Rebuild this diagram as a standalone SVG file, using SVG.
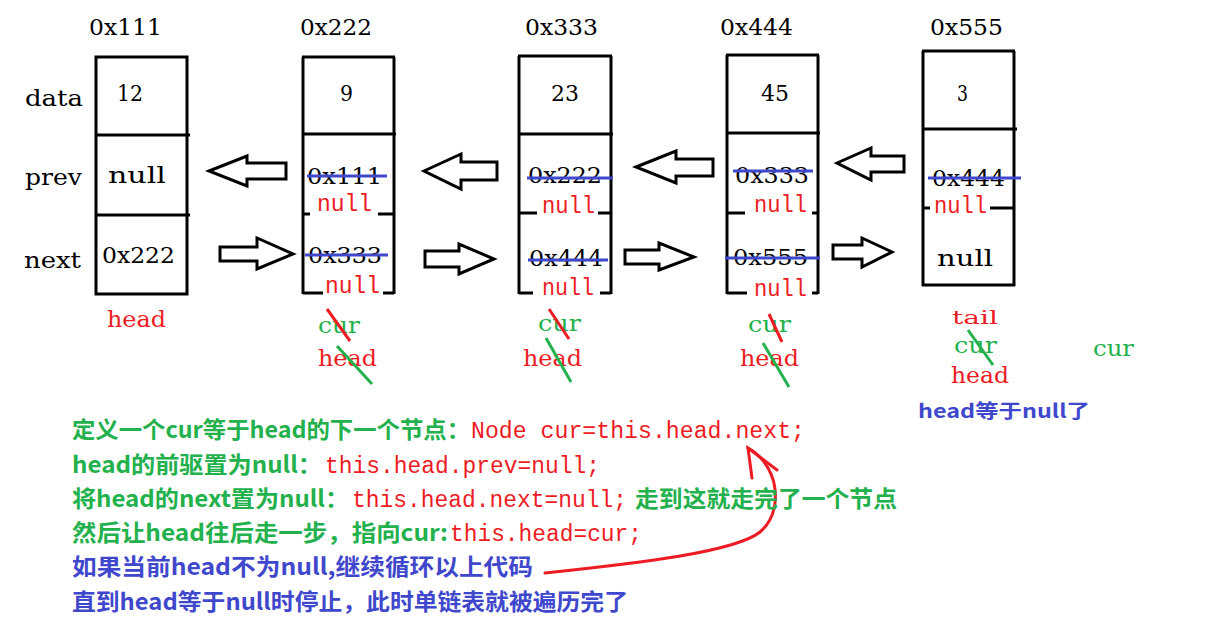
<svg xmlns="http://www.w3.org/2000/svg" width="1227" height="617" viewBox="0 0 1227 617">
<style>
.bg{fill:#fff}
.box{fill:none;stroke:#000;stroke-width:3}
.ln{stroke:#000;stroke-width:3;fill:none}
.arr{fill:#fff;stroke:#000;stroke-width:3;stroke-linejoin:miter}
.t{font-family:"DejaVu Serif","Liberation Serif",serif;font-size:23px;fill:#000}
.rn{font-family:"Liberation Mono","DejaVu Sans Mono",monospace;font-size:23px;fill:#ed1c24}
.st{stroke:#3f48cc;stroke-width:3}
.rs{stroke:#ed1c24;stroke-width:3}
.gs{stroke:#22b14c;stroke-width:3}
.r{fill:#ed1c24}
.g{fill:#22b14c}
.b{fill:#3f48cc}
.cn{font-family:"Noto Sans CJK SC","Noto Sans",sans-serif;font-size:23px;font-weight:bold}
.code{font-family:"Liberation Mono","DejaVu Sans Mono",monospace;font-size:23px;fill:#ed1c24}
</style>
<rect class="bg" x="0" y="0" width="1227" height="617"/>

<g id="row-labels">
<text class="t" x="25" y="106" textLength="58" lengthAdjust="spacingAndGlyphs">data</text>
<text class="t" x="25" y="185" textLength="57" lengthAdjust="spacingAndGlyphs">prev</text>
<text class="t" x="24" y="268" textLength="57" lengthAdjust="spacingAndGlyphs">next</text>
</g>

<g id="node-0x111">
<text class="t" x="89" y="35" textLength="73" lengthAdjust="spacingAndGlyphs">0x111</text>
<rect class="box" x="96" y="57" width="91" height="237"/>
<line class="ln" x1="96" y1="135" x2="190" y2="135"/>
<line class="ln" x1="96" y1="215" x2="190" y2="215"/>
<text class="t" x="117" y="101" textLength="26" lengthAdjust="spacingAndGlyphs">12</text>
<text class="t" x="108" y="183" textLength="58" lengthAdjust="spacingAndGlyphs">null</text>
<text class="t" x="102" y="263" textLength="73" lengthAdjust="spacingAndGlyphs">0x222</text>
<text class="t r" x="107" y="327" textLength="59" lengthAdjust="spacingAndGlyphs">head</text>
</g>

<g id="node-0x222">
<text class="t" x="300" y="35" textLength="72" lengthAdjust="spacingAndGlyphs">0x222</text>
<line class="ln" x1="303" y1="57" x2="303" y2="294"/>
<line class="ln" x1="394" y1="57" x2="394" y2="294"/>
<line class="ln" x1="302" y1="57" x2="395" y2="57"/>
<line class="ln" x1="303" y1="134" x2="396" y2="134"/>
<line class="ln" x1="303" y1="214" x2="310" y2="214"/>
<line class="ln" x1="378" y1="214" x2="394" y2="214"/>
<line class="ln" x1="303" y1="293" x2="323" y2="293"/>
<line class="ln" x1="383" y1="293" x2="394" y2="293"/>
<text class="t" x="340" y="101" textLength="13" lengthAdjust="spacingAndGlyphs">9</text>
<text class="t" x="307" y="184" textLength="75" lengthAdjust="spacingAndGlyphs">0x111</text>
<line class="st" x1="307" y1="176" x2="387" y2="176"/>
<text class="rn" x="317" y="211" textLength="55" lengthAdjust="spacingAndGlyphs">null</text>
<text class="t" x="308" y="263" textLength="74" lengthAdjust="spacingAndGlyphs">0x333</text>
<line class="st" x1="305" y1="255" x2="388" y2="255"/>
<text class="rn" x="325" y="293" textLength="55" lengthAdjust="spacingAndGlyphs">null</text>
<text class="t g" x="318" y="333" textLength="42" lengthAdjust="spacingAndGlyphs">cur</text>
<line class="rs" x1="327" y1="309" x2="350" y2="341"/>
<text class="t r" x="318" y="366" textLength="59" lengthAdjust="spacingAndGlyphs">head</text>
<line class="gs" x1="337" y1="346" x2="372" y2="384"/>
</g>

<g id="node-0x333">
<text class="t" x="525" y="35" textLength="73" lengthAdjust="spacingAndGlyphs">0x333</text>
<line class="ln" x1="519" y1="56" x2="519" y2="294"/>
<line class="ln" x1="611" y1="56" x2="611" y2="294"/>
<line class="ln" x1="518" y1="56" x2="612" y2="56"/>
<line class="ln" x1="519" y1="134" x2="613" y2="134"/>
<line class="ln" x1="519" y1="213" x2="537" y2="213"/>
<line class="ln" x1="598" y1="213" x2="611" y2="213"/>
<line class="ln" x1="519" y1="293" x2="533" y2="293"/>
<line class="ln" x1="600" y1="293" x2="611" y2="293"/>
<text class="t" x="551" y="101" textLength="28" lengthAdjust="spacingAndGlyphs">23</text>
<text class="t" x="528" y="183" textLength="74" lengthAdjust="spacingAndGlyphs">0x222</text>
<line class="st" x1="527" y1="178" x2="613" y2="178"/>
<text class="rn" x="542" y="213" textLength="53" lengthAdjust="spacingAndGlyphs">null</text>
<text class="t" x="529" y="266" textLength="74" lengthAdjust="spacingAndGlyphs">0x444</text>
<line class="st" x1="528" y1="260" x2="608" y2="260"/>
<text class="rn" x="542" y="295" textLength="52" lengthAdjust="spacingAndGlyphs">null</text>
<text class="t g" x="538" y="331" textLength="43" lengthAdjust="spacingAndGlyphs">cur</text>
<line class="rs" x1="549" y1="309" x2="569" y2="339"/>
<text class="t r" x="523" y="366" textLength="59" lengthAdjust="spacingAndGlyphs">head</text>
<line class="gs" x1="546" y1="338" x2="571" y2="382"/>
</g>

<g id="node-0x444">
<text class="t" x="720" y="35" textLength="73" lengthAdjust="spacingAndGlyphs">0x444</text>
<line class="ln" x1="727" y1="55" x2="727" y2="294"/>
<line class="ln" x1="818" y1="55" x2="818" y2="294"/>
<line class="ln" x1="726" y1="55" x2="819" y2="55"/>
<line class="ln" x1="727" y1="133" x2="820" y2="133"/>
<line class="ln" x1="727" y1="213" x2="745" y2="213"/>
<line class="ln" x1="812" y1="213" x2="818" y2="213"/>
<line class="ln" x1="727" y1="293" x2="747" y2="293"/>
<line class="ln" x1="812" y1="293" x2="818" y2="293"/>
<text class="t" x="761" y="101" textLength="28" lengthAdjust="spacingAndGlyphs">45</text>
<text class="t" x="735" y="183" textLength="74" lengthAdjust="spacingAndGlyphs">0x333</text>
<line class="st" x1="733" y1="171" x2="813" y2="171"/>
<text class="rn" x="754" y="212" textLength="53" lengthAdjust="spacingAndGlyphs">null</text>
<text class="t" x="733" y="265" textLength="75" lengthAdjust="spacingAndGlyphs">0x555</text>
<line class="st" x1="725" y1="258" x2="820" y2="258"/>
<text class="rn" x="754" y="296" textLength="53" lengthAdjust="spacingAndGlyphs">null</text>
<text class="t g" x="748" y="332" textLength="43" lengthAdjust="spacingAndGlyphs">cur</text>
<line class="rs" x1="769" y1="314" x2="782" y2="342"/>
<text class="t r" x="740" y="366" textLength="59" lengthAdjust="spacingAndGlyphs">head</text>
<line class="gs" x1="763" y1="343" x2="789" y2="387"/>
</g>

<g id="node-0x555">
<text class="t" x="930" y="35" textLength="73" lengthAdjust="spacingAndGlyphs">0x555</text>
<line class="ln" x1="923" y1="51" x2="923" y2="286"/>
<line class="ln" x1="1014" y1="51" x2="1014" y2="286"/>
<line class="ln" x1="922" y1="51" x2="1015" y2="51"/>
<line class="ln" x1="922" y1="285" x2="1015" y2="285"/>
<line class="ln" x1="923" y1="129" x2="1017" y2="129"/>
<line class="ln" x1="923" y1="208" x2="930" y2="208"/>
<line class="ln" x1="990" y1="208" x2="1014" y2="208"/>
<text class="t" x="957" y="101" textLength="11" lengthAdjust="spacingAndGlyphs">3</text>
<text class="t" x="932" y="186" textLength="73" lengthAdjust="spacingAndGlyphs">0x444</text>
<line class="st" x1="928" y1="178" x2="1021" y2="178"/>
<text class="rn" x="934" y="213" textLength="53" lengthAdjust="spacingAndGlyphs">null</text>
<text class="t" x="937" y="266" textLength="56" lengthAdjust="spacingAndGlyphs">null</text>
<text class="t r" x="952" y="324" font-size="19" textLength="46" lengthAdjust="spacingAndGlyphs" style="font-size:19px">tail</text>
<text class="t g" x="954" y="353" textLength="43" lengthAdjust="spacingAndGlyphs">cur</text>
<line class="gs" x1="968" y1="330" x2="993" y2="365"/>
<text class="t r" x="951" y="383" textLength="58" lengthAdjust="spacingAndGlyphs">head</text>
<text class="cn b" x="918" y="418" textLength="172" lengthAdjust="spacingAndGlyphs" style="font-size:19px">head等于null了</text>
</g>

<g id="cur-end">
<text class="t g" x="1093" y="356" textLength="41" lengthAdjust="spacingAndGlyphs">cur</text>
</g>

<g id="connectors">
<polygon class="arr" points="209,171 247,156 247,163 286,163 286,179 247,179 247,186"/>
<polygon class="arr" points="424,171 461,154 461,162 497,162 497,180 461,180 461,189"/>
<polygon class="arr" points="636,167 676,151 676,159 713,159 713,176 676,176 676,183"/>
<polygon class="arr" points="837,163 871,148 871,156 904,156 904,172 871,172 871,180"/>
<polygon class="arr" points="220,247 257,247 257,238 293,254 257,269 257,261 220,261"/>
<polygon class="arr" points="425,251 459,251 459,244 494,259 459,274 459,267 425,267"/>
<polygon class="arr" points="625,250 659,250 659,243 694,257 659,270 659,264 625,264"/>
<polygon class="arr" points="833,245 862,245 862,238 892,252 862,267 862,259 833,259"/>
<path class="rs" fill="none" stroke-linecap="round" d="M545,573 C640,563 735,552 760,532 C780,515 778,485 768,468 C762,458 756,452 748,448"/>
<path class="rs" fill="none" stroke-linecap="round" d="M752,478 L748,448 L777,470"/>
</g>

<g id="explanation">
<text class="cn g" x="72" y="438" textLength="398" lengthAdjust="spacingAndGlyphs">定义一个cur等于head的下一个节点：</text>
<text class="code" x="471" y="438" textLength="334" lengthAdjust="spacingAndGlyphs">Node cur=this.head.next;</text>
<text class="cn g" x="72" y="473" textLength="250" lengthAdjust="spacingAndGlyphs">head的前驱置为null：</text>
<text class="code" x="325" y="473" textLength="275" lengthAdjust="spacingAndGlyphs">this.head.prev=null;</text>
<text class="cn g" x="72" y="507" textLength="277" lengthAdjust="spacingAndGlyphs">将head的next置为null：</text>
<text class="code" x="352" y="507" textLength="275" lengthAdjust="spacingAndGlyphs">this.head.next=null;</text>
<text class="cn g" x="635" y="507" textLength="262" lengthAdjust="spacingAndGlyphs">走到这就走完了一个节点</text>
<text class="cn g" x="72" y="541" textLength="376" lengthAdjust="spacingAndGlyphs">然后让head往后走一步，指向cur:</text>
<text class="code" x="450" y="541" textLength="192" lengthAdjust="spacingAndGlyphs">this.head=cur;</text>
<text class="cn b" x="72" y="575" textLength="461" lengthAdjust="spacingAndGlyphs">如果当前head不为null,继续循环以上代码</text>
<text class="cn b" x="72" y="610" textLength="556" lengthAdjust="spacingAndGlyphs">直到head等于null时停止，此时单链表就被遍历完了</text>
</g>
</svg>
